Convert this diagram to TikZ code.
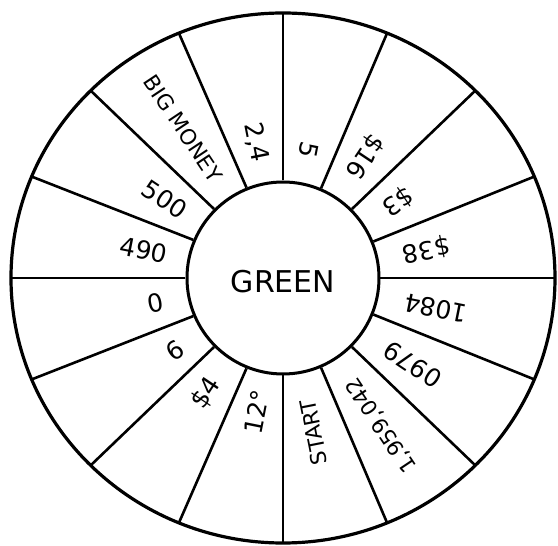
\documentclass[tikz,border=0pt]{standalone}
\usepackage{fontspec}
\setmainfont{DejaVu Sans}
\begin{document}
\begin{tikzpicture}[x=1pt, y=1pt,
    prize/.style={anchor=east, inner sep=0pt, font=\fontsize{25}{25}\selectfont},
    smallprize/.style={prize, font=\fontsize{21.5}{21.5}\selectfont},
    spoke/.style={line width=2.6pt}]

    \useasboundingbox (-283,-268) rectangle (275,278);

    % rim and hub
    \draw[line width=3.2pt] (0,0) ellipse [x radius=272, y radius=265];
    \node[circle, draw, line width=3pt, minimum size=192pt, inner sep=0pt] (hub) at (0,0) {};
    \node[font=\fontsize{30}{30}\selectfont] (title) at (0,-4) {GREEN};

    % outer ends of the spokes
    \coordinate (o1) at (90:272pt and 265pt);
    \coordinate (o2) at (67.5:272pt and 265pt);
    \coordinate (o3) at (45:272pt and 265pt);
    \coordinate (o4) at (22.5:272pt and 265pt);
    \coordinate (o5) at (0:272pt and 265pt);
    \coordinate (o6) at (-22.5:272pt and 265pt);
    \coordinate (o7) at (-45:272pt and 265pt);
    \coordinate (o8) at (-67.5:272pt and 265pt);
    \coordinate (o9) at (-90:272pt and 265pt);
    \coordinate (o10) at (-112.5:272pt and 265pt);
    \coordinate (o11) at (-135:272pt and 265pt);
    \coordinate (o12) at (-157.5:272pt and 265pt);
    \coordinate (o13) at (180:272pt and 265pt);
    \coordinate (o14) at (157.5:272pt and 265pt);
    \coordinate (o15) at (135:272pt and 265pt);
    \coordinate (o16) at (112.5:272pt and 265pt);

    \draw[spoke] (hub.90) -- (o1);
    \draw[spoke] (hub.67.5) -- (o2);
    \draw[spoke] (hub.45) -- (o3);
    \draw[spoke] (hub.22.5) -- (o4);
    \draw[spoke] (hub.0) -- (o5);
    \draw[spoke] (hub.-22.5) -- (o6);
    \draw[spoke] (hub.-45) -- (o7);
    \draw[spoke] (hub.-67.5) -- (o8);
    \draw[spoke] (hub.-90) -- (o9);
    \draw[spoke] (hub.-112.5) -- (o10);
    \draw[spoke] (hub.-135) -- (o11);
    \draw[spoke] (hub.-157.5) -- (o12);
    \draw[spoke] (hub.180) -- (o13);
    \draw[spoke] (hub.157.5) -- (o14);
    \draw[spoke] (hub.135) -- (o15);
    \draw[spoke] (hub.112.5) -- (o16);

    % sector texts
    \node[prize, rotate=-101.25] (s1) at (78.75:122pt) {5};
    \node[prize, rotate=-123.75] (s2) at (56.25:122pt) {\$16};
    \node[prize, rotate=-146.25] (s3) at (33.75:122pt) {\$3};
    \node[prize, rotate=-168.75] (s4) at (11.25:122pt) {\$38};
    \node[prize, rotate=168.75] (s5) at (-11.25:124pt) {1084};
    \node[prize, rotate=146.25] (s6) at (-33.75:124pt) {0979};
    \node[smallprize, rotate=123.75] (s7) at (-56.25:122pt) {1,959,042};
    \node[smallprize, rotate=101.25] (s8) at (-78.75:124pt) {START};
    \node[prize, rotate=78.75] (s9) at (-101.25:114pt) {12°};
    \node[prize, rotate=56.25] (s10) at (-123.75:122pt) {\$4};
    \node[prize, rotate=33.75] (s11) at (-146.25:122pt) {6};
    \node[prize, rotate=11.25] (s12) at (-168.75:122pt) {0};
    \node[prize, rotate=-11.25] (s13) at (168.75:118pt) {490};
    \node[prize, rotate=-33.75] (s14) at (146.25:118pt) {500};
    \node[smallprize, rotate=-56.25] (s15) at (123.75:118pt) {BIG MONEY};
    \node[prize, rotate=-78.75] (s16) at (101.25:118pt) {2,4};
\end{tikzpicture}
\end{document}
